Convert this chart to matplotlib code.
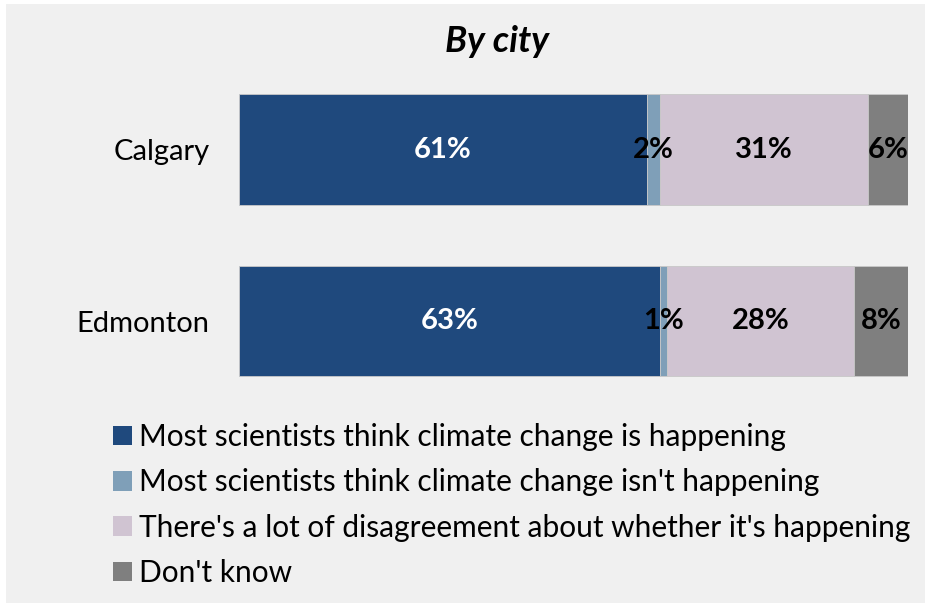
import matplotlib.pyplot as plt
from matplotlib.patches import Rectangle, Patch

plt.rcParams['font.family'] = ['Lato', 'DejaVu Sans']

cities = ['Calgary', 'Edmonton']
series = [
    "Most scientists think climate change is happening",
    "Most scientists think climate change isn't happening",
    "There's a lot of disagreement about whether it's happening",
    "Don't know",
]
values = {
    series[0]: [61, 63],
    series[1]: [2, 1],
    series[2]: [31, 28],
    series[3]: [6, 8],
}
colors = ['#1f497d', '#7f9fb8', '#d0c4d2', '#7f7f7f']

W, H = 925, 603
fig = plt.figure(figsize=(W / 100, H / 100), dpi=100)
fig.patch.set_facecolor('white')
fig.patches.append(Rectangle((6 / W, 0), 1 - 6 / W, 1 - 4 / H, transform=fig.transFigure,
                             facecolor='#f0f0f0', edgecolor='none', zorder=-10))

ax = fig.add_axes([239 / W, 1 - 406.75 / H, (908 - 239) / W, 343 / H])
ax.set_facecolor('none')

ypos = [1, 0]  # Calgary on top
left = [0, 0]
for name, col in zip(series, colors):
    vals = values[name]
    ax.barh(ypos, vals, left=left, height=0.647, color=col, edgecolor='#c8c8c8',
            linewidth=0.6, label=name)
    for y, l, v in zip(ypos, left, vals):
        txtcol = 'white' if col == '#1f497d' else 'black'
        ax.text(l + v / 2, y, f'{v}%', ha='center', va='center', fontsize=21,
                fontweight='bold', color=txtcol)
    left = [a + b for a, b in zip(left, vals)]

ax.set_xlim(0, 100)
ax.set_ylim(-0.5, 1.5)
ax.set_yticks(ypos)
ax.set_yticklabels(cities, fontsize=21)
ax.tick_params(axis='y', length=0, pad=21)
ax.set_xticks([])
for s in ax.spines.values():
    s.set_visible(False)

fig.text(497 / W, 1 - 42 / H, 'By city', ha='center', va='center', fontsize=26,
         fontweight='bold', fontstyle='italic')

handles = [Patch(facecolor=c, edgecolor='none') for c in colors]
fig.legend(handles, series, loc='upper left', bbox_to_anchor=(101 / W, 1 - 411 / H),
           frameon=False, fontsize=21.5, handlelength=0.63, handleheight=0.63,
           handletextpad=0.25, labelspacing=0.58, borderaxespad=0)

fig.savefig('out.png', dpi=100, facecolor=fig.get_facecolor())
